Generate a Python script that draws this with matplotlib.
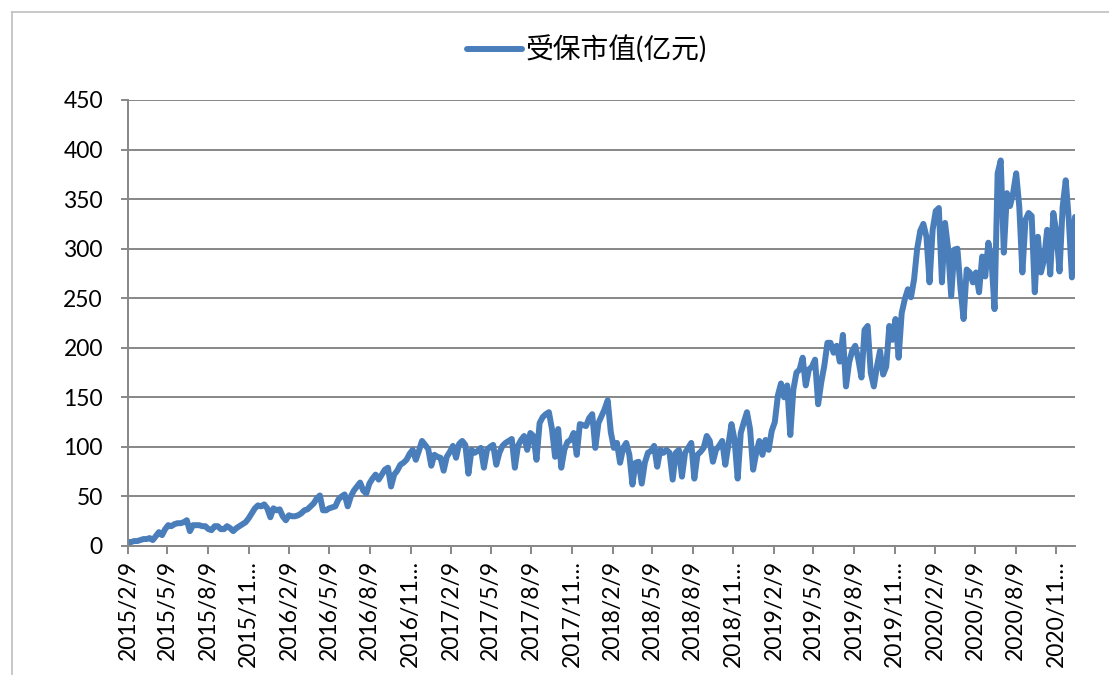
import numpy as np
import pandas as pd
import matplotlib
matplotlib.use("Agg")
import matplotlib.pyplot as plt
from matplotlib.lines import Line2D

plt.rcParams["font.family"] = ["Lato", "Noto Sans CJK SC", "DejaVu Sans"]

# Valores semanais (亿元), um bloco por trimestre a partir de 2015/2/9
q2015_1 = [4, 4, 5, 5, 6, 7, 7, 8, 6, 10, 14, 11, 17]
q2015_2 = [21, 20, 22, 23, 23, 24, 26, 15, 21, 21, 21, 20, 20]
q2015_3 = [17, 16, 20, 20, 17, 17, 20, 18, 15, 18, 20, 22, 24]
q2015_4 = [28, 33, 38, 41, 40, 42, 38, 29, 38, 36, 37, 30, 26]
q2016_1 = [31, 30, 30, 31, 33, 36, 37, 40, 43, 48, 51, 36, 36]
q2016_2 = [38, 39, 40, 47, 50, 52, 40, 50, 56, 60, 64, 56, 53]
q2016_3 = [63, 68, 72, 67, 72, 77, 79, 60, 72, 76, 82, 84, 87]
q2016_4 = [93, 97, 87, 96, 106, 102, 98, 81, 92, 90, 89, 76, 90]
q2017_1 = [95, 101, 89, 103, 106, 102, 73, 97, 94, 96, 99, 79, 97]
q2017_2 = [100, 102, 82, 94, 101, 104, 106, 108, 79, 101, 107, 111, 97]
q2017_3 = [114, 111, 87, 124, 130, 133, 135, 118, 90, 118, 79, 97, 105]
q2017_4 = [107, 114, 92, 123, 122, 121, 129, 133, 99, 124, 131, 138, 147]
q2018_1 = [115, 99, 104, 84, 99, 104, 92, 62, 84, 85, 63, 84, 94]
q2018_2 = [96, 101, 80, 97, 94, 97, 94, 67, 94, 97, 70, 94, 99]
q2018_3 = [104, 68, 92, 95, 99, 111, 106, 85, 97, 101, 106, 82, 102]
q2018_4 = [123, 107, 68, 114, 125, 135, 118, 77, 94, 106, 92, 107, 97]
q2019_1 = [116, 125, 152, 164, 150, 162, 112, 158, 175, 178, 190, 162, 178]
q2019_2 = [181, 188, 143, 165, 182, 205, 205, 195, 202, 186, 213, 161, 185]
q2019_3 = [197, 202, 188, 170, 218, 222, 175, 161, 181, 197, 173, 181, 222]
q2019_4 = [208, 229, 190, 235, 249, 259, 251, 269, 300, 318, 325, 312, 266]
q2020_1 = [319, 338, 341, 266, 326, 300, 252, 299, 300, 260, 229, 279, 276]
q2020_2 = [266, 276, 256, 292, 272, 306, 289, 239, 376, 389, 296, 356, 343]
q2020_3 = [356, 376, 342, 276, 329, 336, 333, 256, 312, 276, 289, 319, 274]
q2020_4 = [336, 316, 277, 342, 369, 329, 271, 332]

valores = (q2015_1 + q2015_2 + q2015_3 + q2015_4 + q2016_1 + q2016_2 + q2016_3 + q2016_4
           + q2017_1 + q2017_2 + q2017_3 + q2017_4 + q2018_1 + q2018_2 + q2018_3 + q2018_4
           + q2019_1 + q2019_2 + q2019_3 + q2019_4 + q2020_1 + q2020_2 + q2020_3 + q2020_4)
datas = pd.date_range("2015-02-09", periods=len(valores), freq="7D")

ticks_x = [pd.Timestamp("2015-02-09") + pd.DateOffset(months=3 * k) for k in range(24)]
ticks_lbl = [f"{d.year}/{d.month}…" if d.month == 11 else f"{d.year}/{d.month}/{d.day}" for d in ticks_x]

y_ticks = list(range(0, 451, 50))

azul = "#4A7EBB"
cinza = "#878787"

fig = plt.figure(figsize=(11.09, 6.75), dpi=100)
ax = fig.add_axes([128 / 1109, 1 - 546 / 675, (1075 - 128) / 1109, (546 - 100) / 675])

ax.plot(datas, valores, color=azul, linewidth=4.3, solid_joinstyle="round",
        solid_capstyle="round", label="受保市值(亿元)")

ax.set_ylim(0, 450)
ax.set_yticks(y_ticks)
ax.set_xlim(datas[0], datas[-1])
ax.set_xticks(ticks_x)
ax.set_xticklabels(ticks_lbl, rotation=90)

ax.grid(axis="y", color=cinza, linewidth=1.4)
ax.set_axisbelow(True)
for s in ["top", "right"]:
    ax.spines[s].set_visible(False)
ax.spines["left"].set_color(cinza)
ax.spines["left"].set_linewidth(1.4)
ax.spines["bottom"].set_color(cinza)
ax.spines["bottom"].set_linewidth(1.4)
ax.tick_params(axis="both", colors=cinza, labelcolor="black", labelsize=16.5, width=1.4, length=5)
ax.tick_params(axis="y", pad=13)
ax.tick_params(axis="x", pad=4, length=6)

fig.legend(loc="center", bbox_to_anchor=(0.529, 1 - 50 / 675), frameon=False,
           fontsize=20, handlelength=2.0, handletextpad=0.1)

# Borda da área do gráfico (estilo Excel)
fig.add_artist(Line2D([12 / 1109, 12 / 1109], [0, 1 - 12 / 675], color="#BFBFBF", linewidth=1.2))
fig.add_artist(Line2D([12 / 1109, 1], [1 - 12 / 675, 1 - 12 / 675], color="#BFBFBF", linewidth=1.2))

fig.savefig("out.png", dpi=100)
